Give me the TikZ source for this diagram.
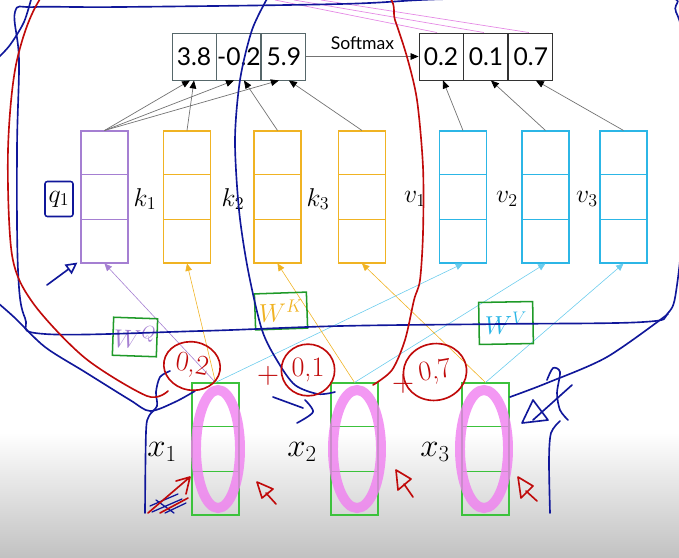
\RequirePackage{fix-cm}
\documentclass[tikz,border=0pt]{standalone}
\usepackage[no-math]{fontspec}
\usepackage{tikz}
\usetikzlibrary{arrows.meta,positioning,calc,shapes.geometric}
\newfontfamily\slidefont{Lato}
\definecolor{qcolor}{HTML}{A57FD2}
\definecolor{kcolor}{HTML}{F0B323}
\definecolor{vcolor}{HTML}{2CB6E6}
\definecolor{xvcolor}{HTML}{3CC23C}
\definecolor{scoreline}{HTML}{56676A}
\definecolor{inkblue}{HTML}{10179A}
\definecolor{inkred}{HTML}{C00A0A}
\definecolor{inkgreen}{HTML}{1E9A28}
\definecolor{hilite}{HTML}{F07EF0}
\definecolor{pinkline}{HTML}{E58BE5}

\begin{document}
\begin{tikzpicture}[x=0.03cm, y=-0.03cm,
  cell/.style={draw=scoreline, line width=0.8pt, minimum width=1.32cm,
               minimum height=1.41cm, inner sep=0pt,
               font=\slidefont\fontsize{21}{24}\selectfont},
  vecbox/.style={draw=#1, line width=0.9pt, minimum width=1.41cm,
                 minimum height=3.96cm, inner sep=0pt},
  lbl/.style={font=\fontsize{22}{26}\selectfont, inner sep=1pt},
  xlbl/.style={font=\fontsize{28}{32}\selectfont, inner sep=1pt},
  arrow/.style={-{Triangle[length=2.4mm, width=2mm, color=black]},
                line width=0.6pt, draw=black!55},
  proj/.style={-{Triangle[length=2.2mm, width=2mm]}, line width=0.5pt,
               draw=#1},
  wbox/.style={draw=inkgreen, line width=1.3pt, inner sep=0pt,
               font=\fontsize{22}{26}\selectfont},
  ink/.style={line width=1.4pt, line cap=round, line join=round},
  redval/.style={ellipse, draw=inkred, line width=1.4pt, text=inkred,
                 inner sep=0pt, font=\fontsize{24}{28}\selectfont},
  hl/.style={draw=hilite, line width=8.5pt, opacity=0.8},
]
  \useasboundingbox (0,0) rectangle (679,557);
  \fill[top color=white, bottom color=black!24] (0,432) rectangle (679,557);

  % attention scores and softmax
  \node[cell] (s1) at (194,56.5) {3.8};
  \node[cell, right=0pt of s1] (s2) {-0.2};
  \node[cell, right=0pt of s2] (s3) {5.9};
  \node[cell, draw=black!80] (p1) at (441,56.5) {0.2};
  \node[cell, draw=black!80, right=0pt of p1] (p2) {0.1};
  \node[cell, draw=black!80, right=0pt of p2] (p3) {0.7};
  \draw[arrow] (s3) -- (p1)
    node[midway, above=2pt, font=\slidefont\fontsize{15}{17}\selectfont] {Softmax};

  % query, key and value vectors
  \node[vecbox=qcolor] (q1) at (104.5,197) {};
  \node[vecbox=kcolor] (k1) at (187,197) {};
  \node[vecbox=kcolor] (k2) at (277.5,197) {};
  \node[vecbox=kcolor] (k3) at (362,197) {};
  \node[vecbox=vcolor] (v1) at (463,197) {};
  \node[vecbox=vcolor] (v2) at (545.5,197) {};
  \node[vecbox=vcolor] (v3) at (623.5,197) {};
  % inputs
  \node[vecbox=xvcolor] (x1) at (215.5,449) {};
  \node[vecbox=xvcolor] (x2) at (354.5,449) {};
  \node[vecbox=xvcolor] (x3) at (485.5,449) {};
  \foreach \n/\c in {q1/qcolor, k1/kcolor, k2/kcolor, k3/kcolor, v1/vcolor,
                     v2/vcolor, v3/vcolor, x1/xvcolor, x2/xvcolor, x3/xvcolor} {
    \draw[\c, line width=0.9pt] ($(\n.north west)!1/3!(\n.south west)$)
      -- ($(\n.north east)!1/3!(\n.south east)$);
    \draw[\c, line width=0.9pt] ($(\n.north west)!2/3!(\n.south west)$)
      -- ($(\n.north east)!2/3!(\n.south east)$);
  }

  \node[lbl, draw=inkblue, line width=1.3pt, rounded corners=2pt,
        minimum width=0.84cm, minimum height=1.05cm] (lq1) at (59,199) {$q_1$};
  \node[lbl] (lk1) at (145,199) {$k_1$};
  \node[lbl] (lk2) at (233,199) {$k_2$};
  \node[lbl] (lk3) at (318,199) {$k_3$};
  \node[lbl] (lv1) at (415,199) {$v_1$};
  \node[lbl] (lv2) at (507,199) {$v_2$};
  \node[lbl] (lv3) at (587,199) {$v_3$};
  \node[xlbl] (lx1) at (162,452) {$x_1$};
  \node[xlbl] (lx2) at (302,452) {$x_2$};
  \node[xlbl] (lx3) at (435,452) {$x_3$};

  % dot products
  \draw[arrow] (q1.north) -- ($(s1.south)+(-4,0)$);
  \draw[arrow] (q1.north) -- ($(s2.south)+(-5,0)$);
  \draw[arrow] (q1.north) -- ($(s3.south)+(-5,0)$);
  \draw[arrow] (k1.north) -- (s1.south);
  \draw[arrow] (k2.north) -- ($(s2.south)+(5,0)$);
  \draw[arrow] (k3.north) -- ($(s3.south)+(5,0)$);
  \draw[arrow] (v1.north) -- ($(p1.south)+(2,0)$);
  \draw[arrow] (v2.north) -- ($(p2.south)+(5,0)$);
  \draw[arrow] (v3.north) -- ($(p3.south)+(5,0)$);

  % projections
  \draw[proj=qcolor] (x1.north) -- (q1.south);
  \draw[proj=kcolor] (x1.north) -- (k1.south);
  \draw[proj=vcolor!70] (x1.north) -- (v1.south);
  \draw[proj=kcolor] (x2.north) -- (k2.south);
  \draw[proj=vcolor!70] (x2.north) -- (v2.south);
  \draw[proj=kcolor] (x3.north) -- (k3.south);
  \draw[proj=vcolor!70] (x3.north) -- (v3.south);

  \node[wbox, text=qcolor, minimum width=1.32cm, minimum height=1.14cm,
        rotate=-2] (wq) at (135,337) {$W^{Q}$};
  \node[wbox, text=kcolor, minimum width=1.56cm, minimum height=1.08cm,
        rotate=2] (wk) at (281,311) {$W^{K}$};
  \node[wbox, text=vcolor, minimum width=1.62cm, minimum height=1.26cm,
        rotate=1] (wv) at (506,323) {$W^{V}$};

  % highlighted inputs
  \draw[hl] (218,449) ellipse [x radius=22, y radius=59];
  \draw[hl] (357,449) ellipse [x radius=24, y radius=59];
  \draw[hl] (484,449) ellipse [x radius=24, y radius=59];

  % handwritten notes
  \begin{scope}
    \clip (0,0) rectangle (679,557);
    \coordinate (pk1) at (275,0);
    \coordinate (pk2) at (294,0);
    \coordinate (pk3) at (321,0);
    \draw[pinkline, line width=0.6pt] (pk1) -- ($(p1.north)+(-4,0)$);
    \draw[pinkline, line width=0.6pt] (pk2) -- ($(p2.north)+(-2,0)$);
    \draw[pinkline, line width=0.6pt] (pk3) -- ($(p3.north)+(-2,0)$);

    \draw[ink, inkblue] plot[smooth cycle, tension=0.6] coordinates {
      (15,12) (19,60) (17,150) (18,270) (25,318) (45,334) (200,331)
      (340,326) (500,324) (643,322) (668,313) (677,285) (684,200)
      (684,60) (676,12) (655,-3) (450,-1) (340,4) (120,7) (35,7)};
    \draw[ink, inkblue] plot[smooth] coordinates {(32,-4) (24,22) (10,45) (-2,58)};
    \draw[ink, inkblue] plot[smooth] coordinates {
      (-2,303) (15,318) (45,347) (85,372) (130,400) (150,411) (175,402) (195,391)};
    \draw[ink, inkblue] plot[smooth] coordinates {
      (170,371) (160,377) (156,392) (157,406) (149,416) (146,432) (145,513)};
    \draw[ink, inkblue] plot[smooth] coordinates {
      (268,-3) (252,30) (240,80) (235,140) (239,210) (248,270) (262,330)
      (278,362) (295,385) (318,394) (335,392)};
    \draw[ink, inkblue] (273,397) -- (303,408);
    \draw[ink, inkblue] plot[smooth] coordinates {(305,400) (313,412) (297,423)};
    \draw[ink, inkblue] plot[smooth] coordinates {(510,397) (547,383) (607,357) (668,314)};
    \draw[ink, inkblue] plot[smooth] coordinates {
      (547,380) (553,368) (560,372) (557,393) (560,410) (568,420)};
    \draw[ink, inkblue] plot[smooth] coordinates {(550,513) (549,460) (551,433) (560,421)};
    \draw[ink, inkblue] (522,423) -- (533,400) -- (548,420) -- cycle;
    \draw[ink, inkblue] (533,420) -- (572,385);
    \draw[ink, inkblue, -{Triangle[open, length=3.5mm, width=3.5mm]}]
      (47,285) -- ($(q1.south west)+(-3,-1)$);
    \draw[ink, inkblue, line width=1.1pt] (150,506) -- (178,494) (152,512) -- (182,499)
      (156,500) -- (174,513) (165,513) -- (186,503);

    \draw[ink, inkred] plot[smooth] coordinates {
      (168,391) (147,396) (85,358) (33,303) (12,255) (8,150) (17,60)
      (45,-8) (120,-70) (300,-70) (385,-8) (395,20) (407,57) (417,100)
      (423,167) (423,233) (420,280) (414,300) (405,340) (392,370) (373,385)};
    \node[redval, minimum width=1.7cm, minimum height=1.45cm, rotate=-10]
      (r1) at (192,366) {0,2};
    \node[redval, minimum width=1.6cm, minimum height=1.55cm]
      (r2) at (308,370) {0,1};
    \node[redval, minimum width=1.9cm, minimum height=1.7cm, rotate=10]
      (r3) at (435,372) {0,7};
    \node[text=inkred, font=\fontsize{26}{28}\selectfont] (plus1) at (268,376) {+};
    \node[text=inkred, font=\fontsize{26}{28}\selectfont] (plus2) at (403,384) {+};
    \draw[ink, inkred] (257,482) -- (273,489) -- (262,498) -- cycle (266,493) -- (276,504);
    \draw[ink, inkred] (396,470) -- (411,479) -- (398,490) -- cycle (404,484) -- (413,497);
    \draw[ink, inkred] (518,477) -- (533,486) -- (521,498) -- cycle (526,491) -- (537,501);
    \draw[ink, inkred] (148,513) -- (190,477) (176,481) -- (190,477) -- (186,494)
      (160,513) -- (188,498);
  \end{scope}
\end{tikzpicture}
\end{document}
